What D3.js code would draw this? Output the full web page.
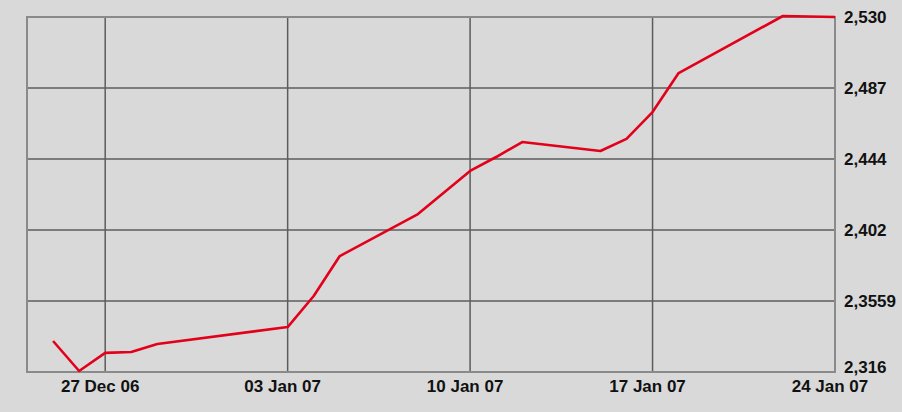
<!DOCTYPE html>
<html lang="en">
<head>
  <meta charset="UTF-8">
  <title>Rate chart</title>
  <script src="https://d3js.org/d3.v7.min.js"></script>
  <style>
    body { margin: 0; background: #d9d9d9; }
    svg { display: block; }
    .lbl { font-family: "Liberation Sans Narrow", "Arial Narrow", Arial, sans-serif; font-weight: bold; font-size: 17px; fill: #111; }
  </style>
</head>
<body>
  <div id="vis"></div>
  <script>
    const dates = ["2006-12-25", "2006-12-26", "2006-12-27", "2006-12-28", "2006-12-29",
      "2007-01-03", "2007-01-04", "2007-01-05", "2007-01-08", "2007-01-10", "2007-01-11",
      "2007-01-12", "2007-01-15", "2007-01-16", "2007-01-17", "2007-01-18", "2007-01-22", "2007-01-24"];
    const values = [2.3347, 2.3166, 2.3275, 2.3281, 2.3329, 2.3431, 2.3618, 2.3859, 2.4112, 2.4372,
      2.4456, 2.4546, 2.4492, 2.4565, 2.4727, 2.4962, 2.5306, 2.5300];

    const xTickDates = ["2006-12-27", "2007-01-03", "2007-01-10", "2007-01-17", "2007-01-24"];
    const xTickLabels = ["27 Dec 06", "03 Jan 07", "10 Jan 07", "17 Jan 07", "24 Jan 07"];
    const yTickLabels = ["2,316", "2,3559", "2,402", "2,444", "2,487", "2,530"];
    const yMin = 2.316, yMax = 2.530;

    const W = 902, H = 412;
    const margin = { top: 17, right: 67, bottom: 40, left: 27 };
    const width = W - margin.left - margin.right;
    const height = H - margin.top - margin.bottom;

    const parse = d3.utcParse("%Y-%m-%d");
    const data = dates.map((d, i) => ({ date: parse(d), value: values[i] }));

    const svg = d3.select("#vis").append("svg").attr("width", W).attr("height", H);
    svg.append("rect").attr("width", W).attr("height", H).attr("fill", "#d9d9d9");

    const g = svg.append("g").attr("transform", `translate(${margin.left},${margin.top})`);

    const x = d3.scaleUtc()
      .domain([parse("2006-12-24"), parse("2007-01-24")])
      .range([0, width]);

    const y = d3.scaleLinear()
      .domain([yMin, yMax])
      .range([height, 0]);

    const yTickVals = yTickLabels.map((_, i) => yMin + i * (yMax - yMin) / (yTickLabels.length - 1));
    const xTickVals = xTickDates.map(parse);

    // grid
    g.selectAll(".hgrid").data(yTickVals).enter().append("line")
      .attr("x1", 0).attr("x2", width)
      .attr("y1", d => y(d)).attr("y2", d => y(d))
      .attr("stroke", "#5c5c5c").attr("stroke-width", 1.5);

    g.selectAll(".vgrid").data(xTickVals).enter().append("line")
      .attr("x1", d => x(d)).attr("x2", d => x(d))
      .attr("y1", 0).attr("y2", height)
      .attr("stroke", "#5c5c5c").attr("stroke-width", 1.5);

    // frame
    g.append("rect")
      .attr("width", width).attr("height", height)
      .attr("fill", "none").attr("stroke", "#8a8a8a").attr("stroke-width", 2);

    // line
    const line = d3.line().x(d => x(d.date)).y(d => y(d.value));
    g.append("path")
      .datum(data)
      .attr("fill", "none")
      .attr("stroke", "#e2001a")
      .attr("stroke-width", 2.6)
      .attr("stroke-linejoin", "round")
      .attr("d", line);

    // right labels
    g.selectAll(".ylbl").data(yTickVals).enter().append("text")
      .attr("class", "lbl")
      .attr("x", width + 9)
      .attr("y", d => Math.min(y(d), height - 5))
      .attr("dy", "0.36em")
      .text((d, i) => yTickLabels[i]);

    // bottom labels
    g.selectAll(".xlbl").data(xTickVals).enter().append("text")
      .attr("class", "lbl")
      .attr("x", d => x(d))
      .attr("dx", -5)
      .attr("y", height + 20)
      .attr("text-anchor", "middle")
      .text((d, i) => xTickLabels[i]);
  </script>
</body>
</html>
